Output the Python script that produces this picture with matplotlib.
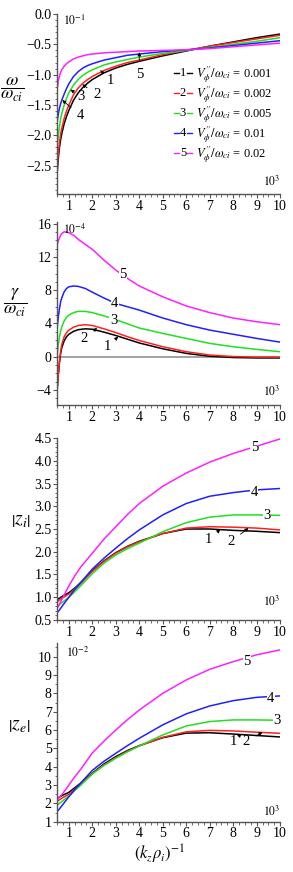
import matplotlib
matplotlib.use('Agg')
import matplotlib.pyplot as plt
from matplotlib.lines import Line2D
from matplotlib.legend_handler import HandlerBase
from matplotlib.ticker import MultipleLocator

plt.rcParams['font.family'] = ['Liberation Serif', 'DejaVu Serif']
plt.rcParams['mathtext.fontset'] = 'stix'

colors = ['#000000', '#ff2020', '#20e020', '#2020ff', '#ff20ff']
names = ['1', '2', '3', '4', '5']
legend_vals = ['0.001', '0.002', '0.005', '0.01', '0.02']

# panel 1: omega / omega_ci, x 10^-1
x1 = [0.5, 0.55, 0.6, 0.65, 0.7, 0.8, 0.9, 1.0, 1.2, 1.4, 1.6, 1.8, 2.0, 2.5, 3.0, 3.5, 4.0, 5, 6, 7, 8, 9, 10]
omega1 = [-2.63, -2.38, -2.2, -2.07, -1.97, -1.81, -1.69, -1.59, -1.42, -1.3, -1.21, -1.14, -1.08, -0.97, -0.89, -0.83, -0.78, -0.69, -0.61, -0.53, -0.46, -0.39, -0.33]
omega2 = [-2.55, -2.3, -2.12, -1.98, -1.88, -1.72, -1.6, -1.5, -1.33, -1.22, -1.14, -1.08, -1.03, -0.93, -0.86, -0.8, -0.76, -0.67, -0.6, -0.53, -0.47, -0.41, -0.35]
omega3 = [-2.2, -2.0, -1.85, -1.73, -1.64, -1.5, -1.39, -1.3, -1.17, -1.08, -1.01, -0.96, -0.92, -0.84, -0.79, -0.75, -0.71, -0.65, -0.6, -0.55, -0.5, -0.45, -0.39]
omega4 = [-1.78, -1.65, -1.55, -1.48, -1.42, -1.32, -1.23, -1.15, -1.03, -0.95, -0.89, -0.85, -0.82, -0.76, -0.72, -0.68, -0.66, -0.62, -0.59, -0.56, -0.52, -0.48, -0.44]
omega5 = [-1.25, -1.1, -1.02, -0.96, -0.92, -0.86, -0.82, -0.79, -0.74, -0.71, -0.69, -0.67, -0.66, -0.64, -0.63, -0.62, -0.61, -0.6, -0.59, -0.57, -0.54, -0.51, -0.48]

# panel 2: gamma / omega_ci, x 10^-4
x2 = [0.5, 0.55, 0.6, 0.65, 0.7, 0.8, 0.9, 1.0, 1.2, 1.4, 1.7, 2.0, 2.5, 3.0, 3.5, 4.0, 5, 6, 7, 8, 9, 10]
gamma1 = [-4.0, -2.2, -0.7, 0.4, 1.1, 1.9, 2.4, 2.7, 3.05, 3.25, 3.35, 3.3, 2.95, 2.55, 2.1, 1.65, 0.95, 0.4, 0.05, -0.1, -0.15, -0.15]
gamma2 = [-4.0, -2.1, -0.5, 0.7, 1.5, 2.4, 2.9, 3.2, 3.55, 3.75, 3.85, 3.75, 3.35, 2.9, 2.4, 1.95, 1.2, 0.6, 0.2, 0.02, -0.05, -0.05]
gamma3 = [0.3, 1.4, 2.4, 3.1, 3.6, 4.3, 4.75, 5.0, 5.3, 5.45, 5.45, 5.3, 4.9, 4.45, 3.95, 3.45, 2.8, 2.2, 1.6, 1.2, 0.88, 0.6]
gamma4 = [3.4, 4.8, 5.8, 6.6, 7.1, 7.8, 8.2, 8.4, 8.5, 8.45, 8.2, 7.75, 7.05, 6.4, 6.0, 5.6, 4.65, 3.85, 3.2, 2.7, 2.2, 1.75]
gamma5 = [13.5, 13.9, 14.3, 14.6, 14.8, 15.0, 15.0, 14.9, 14.6, 14.1, 13.5, 12.9, 11.6, 10.4, 9.4, 8.5, 7.2, 6.1, 5.3, 4.65, 4.2, 3.85]

# panels 3 and 4: |z_i| and |z_e| (x 10^-2)
x3 = [0.5, 0.6, 0.75, 1.0, 1.25, 1.5, 2, 2.5, 3, 3.5, 4, 5, 6, 7, 8, 9, 10]
zi1 = [0.95, 0.98, 1.03, 1.1, 1.2, 1.32, 1.58, 1.8, 1.98, 2.12, 2.23, 2.4, 2.5, 2.5, 2.47, 2.45, 2.42]
zi2 = [0.9, 0.94, 0.99, 1.07, 1.18, 1.3, 1.57, 1.79, 1.97, 2.11, 2.22, 2.4, 2.52, 2.55, 2.54, 2.52, 2.48]
zi3 = [0.8, 0.84, 0.9, 1.0, 1.12, 1.25, 1.52, 1.75, 1.93, 2.07, 2.19, 2.44, 2.64, 2.76, 2.81, 2.81, 2.8]
zi4 = [0.66, 0.72, 0.83, 1.0, 1.17, 1.32, 1.62, 1.86, 2.08, 2.29, 2.48, 2.81, 3.06, 3.22, 3.3, 3.36, 3.39]
zi5 = [0.75, 0.85, 1.0, 1.25, 1.47, 1.66, 1.97, 2.28, 2.55, 2.82, 3.06, 3.44, 3.73, 3.97, 4.16, 4.32, 4.48]

ze1 = [2.25, 2.35, 2.45, 2.6, 2.85, 3.1, 3.65, 4.15, 4.55, 4.88, 5.15, 5.58, 5.83, 5.85, 5.78, 5.7, 5.62]
ze2 = [2.1, 2.2, 2.32, 2.5, 2.78, 3.05, 3.62, 4.1, 4.5, 4.84, 5.13, 5.6, 5.9, 5.98, 5.95, 5.88, 5.82]
ze3 = [1.9, 2.0, 2.15, 2.4, 2.7, 2.98, 3.6, 4.07, 4.46, 4.81, 5.13, 5.73, 6.22, 6.46, 6.55, 6.55, 6.53]
ze4 = [1.55, 1.7, 1.95, 2.36, 2.75, 3.1, 3.8, 4.3, 4.73, 5.15, 5.55, 6.28, 6.88, 7.31, 7.6, 7.78, 7.86]
ze5 = [2.2, 2.35, 2.55, 3.0, 3.45, 3.85, 4.75, 5.4, 6.0, 6.57, 7.09, 8.0, 8.73, 9.31, 9.73, 10.1, 10.37]


class NumberHandler(HandlerBase):
    # legend key drawn as  -n-
    def create_artists(self, legend, orig_handle, xdescent, ydescent,
                       width, height, fontsize, trans):
        y = height / 2 - ydescent
        c = orig_handle.get_color()
        a = Line2D([-xdescent, -xdescent + width * 0.3], [y, y], color=c, lw=1, transform=trans)
        b = Line2D([-xdescent + width * 0.7, -xdescent + width], [y, y], color=c, lw=1, transform=trans)
        t = plt.Text(-xdescent + width / 2, y, orig_handle.get_label_num(), ha='center', va='center',
                     fontsize=fontsize, transform=trans)
        return [a, b, t]


class NumLine(Line2D):
    def set_num(self, n):
        self._num = n
        return self

    def get_label_num(self):
        return self._num


def style(ax, ylim, major, minor):
    ax.set_xlim(0.5, 10)
    ax.set_ylim(*ylim)
    for s in ['top', 'right']:
        ax.spines[s].set_visible(False)
    for s in ['left', 'bottom']:
        ax.spines[s].set_color('#555555')
        ax.spines[s].set_linewidth(1.0)
    ax.xaxis.set_major_locator(MultipleLocator(1))
    ax.xaxis.set_minor_locator(MultipleLocator(0.25))
    ax.yaxis.set_major_locator(MultipleLocator(major))
    ax.yaxis.set_minor_locator(MultipleLocator(minor))
    ax.tick_params(which='both', direction='out', colors='#555555', labelcolor='black', labelsize=10, pad=1)
    ax.tick_params(which='major', length=3, width=0.8)
    ax.tick_params(which='minor', length=1.8, width=0.6)
    ax.set_xticks(range(1, 11))


def label_arrow(ax, text, xy, xytext):
    ax.annotate(text, xy=xy, xytext=xytext, fontsize=10.5, ha='center', va='center',
                arrowprops=dict(arrowstyle='-|>', color='black', lw=0.6, mutation_scale=5,
                                shrinkA=3, shrinkB=0))


def label_on(ax, text, xy):
    ax.text(xy[0], xy[1], text, fontsize=10.5, ha='center', va='center',
            bbox=dict(facecolor='white', edgecolor='none', pad=0.3))


fig = plt.figure(figsize=(2.93, 8.72), dpi=100)
ax1 = fig.add_axes([0.195, 0.7775, 0.761, 0.2064])
ax2 = fig.add_axes([0.195, 0.5356, 0.761, 0.2099])
ax3 = fig.add_axes([0.195, 0.289, 0.761, 0.2087])
ax4 = fig.add_axes([0.195, 0.0577, 0.761, 0.2046])

# panel 1
handles = []
for ys, c, n, v in zip([omega1, omega2, omega3, omega4, omega5], colors, names, legend_vals):
    ax1.plot(x1, ys, color=c, lw=1.1)
    h = NumLine([], [], color=c).set_num(n)
    handles.append(h)
labels = [r'$V_{\phi}^{\prime\prime}/\omega_{ci}$ = ' + v for v in legend_vals]
ax1.legend(handles, labels, handler_map={NumLine: NumberHandler()}, loc='upper left',
           bbox_to_anchor=(0.5, 0.75), frameon=False, fontsize=9, handlelength=1.5,
           handletextpad=0.3, labelspacing=-0.05, borderaxespad=0)
style(ax1, (-2.97, 0.0), 0.5, 0.1)
ax1.yaxis.set_major_formatter(matplotlib.ticker.FuncFormatter(lambda v, p: ('%.1f' % v).replace('-', '\u2212') if abs(v) > 1e-9 else '0.0'))
ax1.text(0.025, 1.0, r'$10^{-1}$', transform=ax1.transAxes, fontsize=8.5, va='top')
ax1.text(1.0, 0.07, r'$10^{3}$', transform=ax1.transAxes, fontsize=8.5, ha='right', va='center')
ax1.set_ylabel(r'$\dfrac{\omega}{\omega_{ci}}$', rotation=0, fontsize=13)
ax1.yaxis.set_label_coords(-0.2, 0.5)
label_arrow(ax1, '1', (2.35, -0.93), (2.75, -1.1))
label_arrow(ax1, '2', (1.57, -1.16), (2.2, -1.33))
label_arrow(ax1, '3', (1.07, -1.25), (1.5, -1.36))
label_arrow(ax1, '4', (0.72, -1.42), (1.5, -1.68))
label_arrow(ax1, '5', (4.0, -0.63), (4.0, -1.0))

# panel 2
ax2.axhline(0, color='#888888', lw=1.1)
for ys, c in zip([gamma1, gamma2, gamma3, gamma4, gamma5], colors):
    ax2.plot(x2, ys, color=c, lw=1.1)
style(ax2, (-5.8, 16.2), 4, 1)
ax2.yaxis.set_major_formatter(matplotlib.ticker.FuncFormatter(lambda v, p: ('%d' % round(v)).replace('-', '\u2212')))
ax2.text(0.025, 0.995, r'$10^{-4}$', transform=ax2.transAxes, fontsize=8.5, va='top')
ax2.text(1.0, 0.07, r'$10^{3}$', transform=ax2.transAxes, fontsize=8.5, ha='right', va='center')
ax2.set_ylabel(r'$\dfrac{\gamma}{\omega_{ci}}$', rotation=0, fontsize=13)
ax2.yaxis.set_label_coords(-0.19, 0.47)
label_on(ax2, '5', (3.3, 9.9))
label_on(ax2, '4', (2.95, 6.35))
label_on(ax2, '3', (2.9, 4.4))
label_arrow(ax2, '2', (2.2, 3.45), (1.65, 2.2))
label_arrow(ax2, '1', (3.1, 2.4), (2.65, 1.2))

# panel 3
for ys, c in zip([zi1, zi2, zi3, zi4, zi5], colors):
    ax3.plot(x3, ys, color=c, lw=1.1)
style(ax3, (0.5, 4.5), 0.5, 0.1)
ax3.yaxis.set_major_formatter(matplotlib.ticker.FormatStrFormatter('%.1f'))
ax3.text(1.0, 0.1, r'$10^{3}$', transform=ax3.transAxes, fontsize=8.5, ha='right', va='center')
ax3.set_ylabel(r'$\left|z_i\right|$', rotation=0, fontsize=14)
ax3.yaxis.set_label_coords(-0.16, 0.5)
label_on(ax3, '5', (8.9, 4.3))
label_on(ax3, '4', (8.9, 3.3))
label_on(ax3, '3', (9.45, 2.8))
label_arrow(ax3, '1', (7.45, 2.49), (6.95, 2.26))
label_arrow(ax3, '2', (8.65, 2.52), (7.9, 2.22))

# panel 4
for ys, c in zip([ze1, ze2, ze3, ze4, ze5], colors):
    ax4.plot(x3, ys, color=c, lw=1.1)
style(ax4, (1.0, 10.73), 1, 0.5)
ax4.text(0.04, 0.985, r'$10^{-2}$', transform=ax4.transAxes, fontsize=8.5, va='top')
ax4.text(1.0, 0.056, r'$10^{3}$', transform=ax4.transAxes, fontsize=8.5, ha='right', va='center')
ax4.set_ylabel(r'$\left|z_e\right|$', rotation=0, fontsize=14)
ax4.yaxis.set_label_coords(-0.17, 0.49)
label_on(ax4, '5', (8.6, 9.73))
label_on(ax4, '4', (9.6, 7.7))
label_on(ax4, '3', (9.88, 6.53))
label_arrow(ax4, '1', (8.35, 5.8), (8.0, 5.35))
label_arrow(ax4, '2', (9.25, 5.88), (8.55, 5.35))
ax4.set_xlabel(r'$\left(k_z\rho_i\right)^{-1}$', fontsize=12, labelpad=1)
ax4.xaxis.set_label_coords(0.46, -0.12)

fig.savefig('out.png', dpi=100)
